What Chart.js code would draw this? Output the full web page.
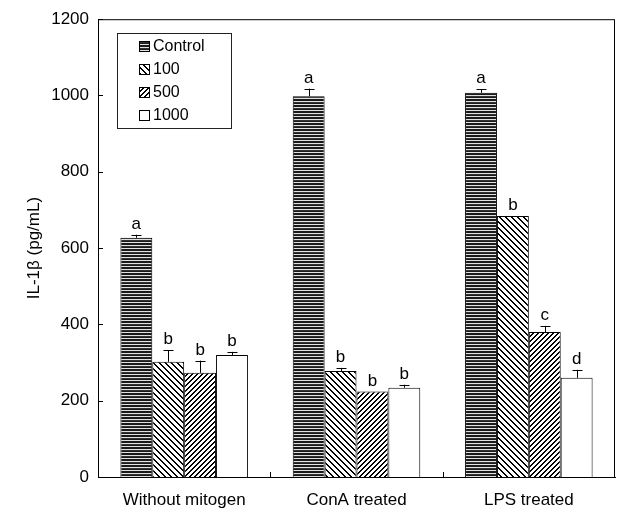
<!DOCTYPE html>
<html>
<head>
<meta charset="utf-8">
<script src="https://cdn.jsdelivr.net/npm/chart.js@4.4.0/dist/chart.umd.min.js"></script>
<style>
  html, body { margin: 0; padding: 0; background: #fff; }
  #wrap { width: 619px; height: 518px; position: relative; }
</style>
</head>
<body>
<div id="wrap"><canvas id="c" width="619" height="518"></canvas></div>
<script>
// ── Data ──────────────────────────────────────────────
const categories = ['Without mitogen', 'ConA treated', 'LPS treated'];
const seriesNames = ['Control', '100', '500', '1000'];
const controlVals = [627, 998, 1007];
const dose100Vals = [302, 278, 684];
const dose500Vals = [273, 224, 380];
const dose1000Vals = [320, 234, 260];
const controlErr = [8, 20, 9];
const dose100Err = [31, 8, 0];
const dose500Err = [32, 0, 16];
const dose1000Err = [8, 8, 21];
const controlLetters = ['a', 'a', 'a'];
const dose100Letters = ['b', 'b', 'b'];
const dose500Letters = ['b', 'b', 'c'];
const dose1000Letters = ['b', 'b', 'd'];
const yTicks = [0, 200, 400, 600, 800, 1000, 1200];

const FONT = 'Arial, "Liberation Sans", sans-serif';

// ── Fill patterns ─────────────────────────────────────
function makePattern(size, test) {
  const cv = document.createElement('canvas');
  cv.width = size; cv.height = size;
  const g = cv.getContext('2d');
  const img = g.createImageData(size, size);
  for (let y = 0; y < size; y++) {
    for (let x = 0; x < size; x++) {
      const v = test(x, y);
      const i = (y * size + x) * 4;
      img.data[i] = img.data[i + 1] = img.data[i + 2] = v;
      img.data[i + 3] = 255;
    }
  }
  g.putImageData(img, 0, 0);
  return g.createPattern(cv, 'repeat');
}
const horizPat = makePattern(6, (x, y) => (y % 3 === 2 ? 225 : (y % 6 === 0 ? 50 : 25)));
const backPat  = makePattern(6, (x, y) => (((x - y) % 6 + 6) % 6 < 2 ? 0 : 255));
const fwdPat   = makePattern(5, (x, y) => ((x + y) % 5 < 2 ? 0 : 255));
const fills = [horizPat, backPat, fwdPat, '#ffffff'];

const values = [controlVals, dose100Vals, dose500Vals, dose1000Vals];
const errs = [controlErr, dose100Err, dose500Err, dose1000Err];
const letters = [controlLetters, dose100Letters, dose500Letters, dose1000Letters];

// ── Plugin: frame, inner ticks, error bars, letters, legend ──
const decorations = {
  id: 'decorations',
  afterDatasetsDraw(chart) {
    const { ctx, chartArea: a, scales: { x, y } } = chart;
    ctx.save();
    ctx.strokeStyle = '#000';
    ctx.lineWidth = 1;
    // frame
    ctx.strokeRect(a.left + 0.5, a.top + 0.5, a.right - a.left - 1, a.bottom - a.top);
    // inward y ticks
    ctx.beginPath();
    yTicks.forEach(t => {
      const py = Math.round(y.getPixelForValue(t)) + 0.5;
      ctx.moveTo(a.left, py); ctx.lineTo(a.left + 5, py);
    });
    // inward x ticks at category boundaries
    for (let i = 1; i < categories.length; i++) {
      const px = Math.round((x.getPixelForValue(i - 1) + x.getPixelForValue(i)) / 2) + 0.5;
      ctx.moveTo(px, a.bottom); ctx.lineTo(px, a.bottom - 5);
    }
    ctx.stroke();

    // error bars + letters
    ctx.font = '17px ' + FONT;
    ctx.fillStyle = '#000';
    ctx.textAlign = 'center';
    ctx.textBaseline = 'alphabetic';
    chart.data.datasets.forEach((ds, di) => {
      const meta = chart.getDatasetMeta(di);
      meta.data.forEach((bar, i) => {
        const v = values[di][i], e = errs[di][i];
        const top = y.getPixelForValue(v + e);
        const cx = Math.round(bar.x) + 0.5;
        if (e > 0) {
          ctx.beginPath();
          ctx.moveTo(cx, y.getPixelForValue(v)); ctx.lineTo(cx, top);
          ctx.moveTo(cx - 5, Math.round(top) + 0.5); ctx.lineTo(cx + 5, Math.round(top) + 0.5);
          ctx.stroke();
        }
        ctx.fillText(letters[di][i], bar.x, top - 6);
      });
    });

    // legend box
    const lx = 117, ly = 33, lw = 114, lh = 95;
    ctx.fillStyle = '#fff';
    ctx.fillRect(lx, ly, lw, lh);
    ctx.strokeStyle = '#222';
    ctx.strokeRect(lx + 0.5, ly + 0.5, lw, lh);
    ctx.textAlign = 'left';
    ctx.textBaseline = 'middle';
    ctx.font = '16px ' + FONT;
    chart.data.datasets.forEach((ds, di) => {
      const ry = 46 + di * 23;
      ctx.fillStyle = fills[di];
      ctx.fillRect(139, ry - 5, 11, 11);
      ctx.strokeStyle = '#000';
      ctx.strokeRect(139.5, ry - 4.5, 10, 10);
      ctx.fillStyle = '#000';
      ctx.fillText(ds.label, 153, ry + 1);
    });
    ctx.restore();
  }
};

new Chart(document.getElementById('c'), {
  type: 'bar',
  data: {
    labels: categories,
    datasets: seriesNames.map((name, i) => ({
      label: name,
      data: values[i],
      backgroundColor: fills[i],
      borderColor: '#000',
      borderWidth: 1,
      borderSkipped: 'bottom',
      categoryPercentage: 0.74,
      barPercentage: 1.0,
    })),
  },
  options: {
    responsive: false,
    animation: false,
    devicePixelRatio: 1,
    layout: { padding: { top: 5, right: 4, left: 24, bottom: 0 } },
    plugins: {
      legend: { display: false },
      tooltip: { enabled: false },
    },
    scales: {
      x: {
        afterFit: s => { s.height = 41; },
        grid: { display: false, drawTicks: false },
        border: { display: true, color: '#000', width: 1 },
        ticks: { color: '#000', font: { family: FONT, size: 17 }, padding: 13 },
      },
      y: {
        min: 0,
        max: 1200,
        afterBuildTicks: s => { s.ticks = yTicks.map(v => ({ value: v })); },
        afterFit: s => { s.width = 74; },
        grid: { display: false, drawTicks: false },
        border: { display: true, color: '#000', width: 1 },
        ticks: {
          color: '#000',
          font: { family: FONT, size: 17 },
          padding: 9,
          callback: v => String(v),
        },
        title: {
          display: true,
          text: 'IL-1β (pg/mL)',
          color: '#000',
          font: { family: FONT, size: 17 },
          padding: { top: 0, bottom: 0 },
        },
      },
    },
  },
  plugins: [decorations],
});
</script>
</body>
</html>
